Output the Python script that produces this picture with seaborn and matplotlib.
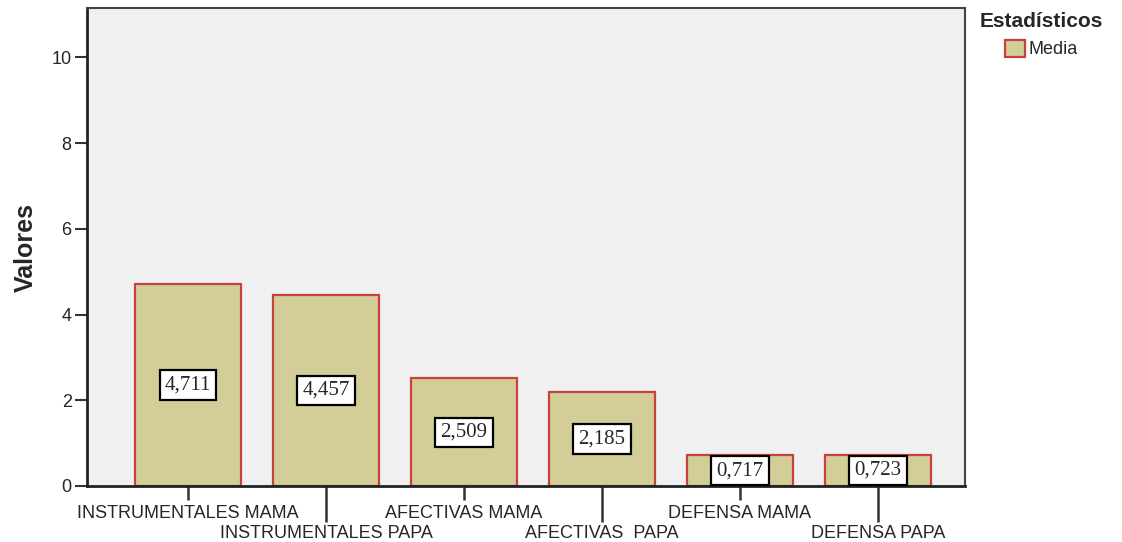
import pandas as pd
import matplotlib
matplotlib.use('Agg')
import matplotlib.pyplot as plt
import seaborn as sns

sns.set_style('white')
plt.rcParams['font.family'] = ['Liberation Sans', 'DejaVu Sans']

# Data
categorias = ['INSTRUMENTALES MAMA', 'INSTRUMENTALES PAPA', 'AFECTIVAS MAMA',
              'AFECTIVAS  PAPA', 'DEFENSA MAMA', 'DEFENSA PAPA']
medias = [4.711, 4.457, 2.509, 2.185, 0.717, 0.723]
serie = ['Media'] * len(categorias)

df = pd.DataFrame({'categoria': categorias, 'valor': medias, 'Estadísticos': serie})

fig = plt.figure(figsize=(11.22, 5.42), dpi=100)
ax = fig.add_axes([87/1122, 1 - 486/542, (965-87)/1122, (486-8)/542])
ax.set_facecolor('#F0F0F0')

sns.barplot(data=df, x='categoria', y='valor', hue='Estadísticos',
            palette={'Media': '#D3CE98'}, saturation=1, edgecolor='#C8403F',
            linewidth=1.6, width=0.768, ax=ax)

# value labels in boxes, at mid height of each bar
for cont in ax.containers:
    ax.bar_label(cont, labels=[f'{v:.3f}'.replace('.', ',') for v in medias],
                 label_type='center', fontsize=15, family='Liberation Serif',
                 bbox=dict(boxstyle='square,pad=0.25', fc='white', ec='black', lw=1.6))

ax.set_xlim(-0.732, 5.63)
ax.set_ylim(0, 11.15)
ax.set_yticks(range(0, 11, 2))
ax.tick_params(axis='y', direction='out', length=9, width=1.5, color='#333333',
               labelsize=13, pad=2, left=True)

# alternate tick lengths so the labels sit on two rows
pos = list(range(len(categorias)))
ax.set_xticks(pos[0::2])
ax.set_xticklabels(categorias[0::2])
ax.set_xticks(pos[1::2], minor=True)
ax.set_xticklabels(categorias[1::2], minor=True)
ax.tick_params(axis='x', which='major', direction='out', length=10, width=1.8,
               color='#333333', labelsize=13, pad=4, bottom=True)
ax.tick_params(axis='x', which='minor', direction='out', length=26, width=1.8,
               color='#333333', labelsize=13, pad=2, bottom=True)

ax.set_xlabel('')
ax.set_ylabel('Valores', fontsize=18, fontweight='bold', labelpad=10)

for s in ['left', 'bottom']:
    ax.spines[s].set_color('#222222')
    ax.spines[s].set_linewidth(2)
for s in ['top', 'right']:
    ax.spines[s].set_color('#444444')
    ax.spines[s].set_linewidth(1.5)

sns.move_legend(ax, 'upper left', bbox_to_anchor=(1.013, 1.0), frameon=False,
                title='Estadísticos', fontsize=13,
                title_fontproperties={'weight': 'bold', 'size': 15},
                handlelength=1.1, handleheight=1.1, handletextpad=0.2,
                borderaxespad=0.0, borderpad=0.2)

fig.savefig('out.png', dpi=100)
